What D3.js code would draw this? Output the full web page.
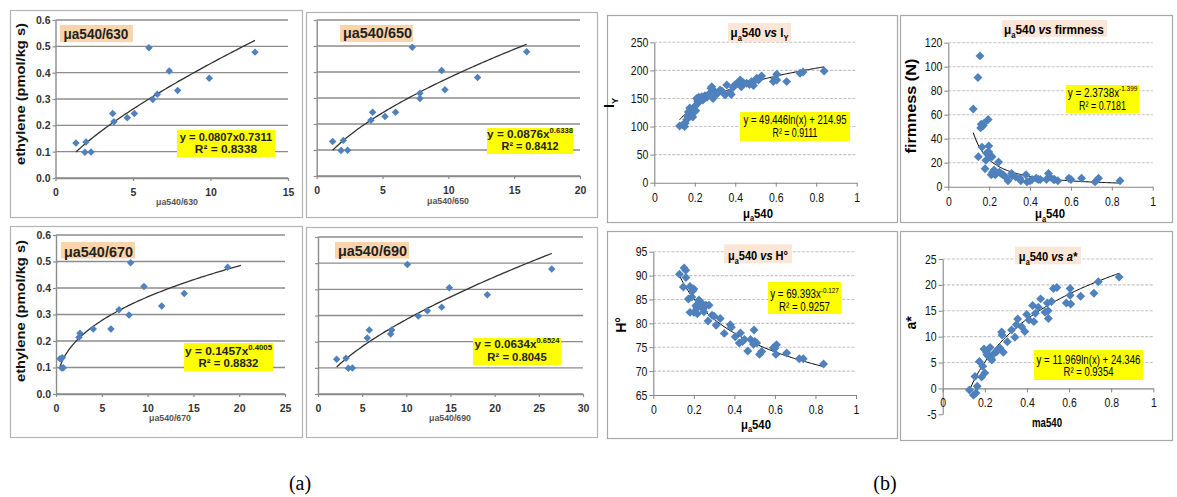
<!DOCTYPE html>
<html><head><meta charset="utf-8">
<script src="https://cdn.jsdelivr.net/npm/d3@7"></script>
<style>body{margin:0;background:#fff} text{font-family:"Liberation Sans",Arial,sans-serif}</style>
</head><body><svg id="c" width="1177" height="497"></svg>
<script>
// ---------------- data : panel (a) ----------------
const ethylene = [0.133,0.137,0.098,0.099,0.245,0.214,0.229,0.245,0.495,0.298,0.318,0.406,0.332,0.379,0.478];
const ratio630 = [1.32,1.97,1.90,2.29,3.69,3.77,4.63,5.09,6.03,6.27,6.57,7.34,7.88,9.92,12.87];
const ratio650 = [1.21,2.02,1.85,2.35,4.25,4.12,5.19,5.99,7.26,7.84,7.84,9.49,9.74,12.22,15.95];
const ratio670 = [0.44,0.69,0.62,0.80,4.07,2.51,2.62,6.00,8.15,7.97,6.88,9.60,11.54,14.00,18.74];
const ratio690 = [2.11,3.17,3.43,3.89,5.81,5.58,8.23,8.34,10.12,11.36,12.38,14.87,14.00,19.17,26.46];
const ethyleneTicks = [0,0.1,0.2,0.3,0.4,0.5,0.6];
const ticks630 = [0,5,10,15];
const ticks650 = [0,5,10,15,20];
const ticks670 = [0,5,10,15,20,25];
const ticks690 = [0,5,10,15,20,25,30];
const powCoefA = [0.0807,0.0876,0.1457,0.0634];
const powExpA  = [0.7311,0.6338,0.4005,0.6524];
const r2A = ["0.8338","0.8412","0.8832","0.8045"];
const labelsA = ["μa540/630","μa540/650","μa540/670","μa540/690"];

// ---------------- data : panel (b) ----------------
const muIy = [0.125,0.140,0.150,0.152,0.160,0.165,0.168,0.175,0.180,0.185,
              0.190,0.193,0.200,0.205,0.209,0.215,0.217,0.220,0.225,0.234,
              0.240,0.250,0.260,0.270,0.280,0.284,0.290,0.300,0.310,0.325,
              0.335,0.350,0.358,0.374,0.380,0.390,0.400,0.410,0.424,0.430,
              0.440,0.456,0.470,0.480,0.490,0.500,0.506,0.515,0.530,0.588,
              0.595,0.605,0.605,0.654,0.720,0.735,0.839];
const Iy   = [101,103,100,106,112,118,126,133,128,120,
              117,132,136,128,150,145,142,152,148,153,
              147,155,152,158,168,171,150,162,158,165,
              163,156,174,160,157,170,175,177,183,171,
              178,177,175,180,173,183,186,183,190,180,
              185,193,183,180,195,197,199];
const muFirm = [0.122,0.145,0.147,0.155,0.158,0.161,0.165,0.171,0.175,0.180,
                0.184,0.187,0.195,0.198,0.198,0.205,0.210,0.214,0.216,0.220,
                0.224,0.230,0.246,0.250,0.258,0.267,0.275,0.292,0.310,0.312,
                0.330,0.350,0.355,0.380,0.385,0.400,0.410,0.430,0.440,0.450,
                0.480,0.490,0.497,0.515,0.520,0.536,0.590,0.600,0.652,0.718,
                0.735,0.840];
const firmness = [64.7,91,25,109,49,52,33,51,53,15,
                  22,28,56,34,29,25,10,25,12,11,
                  14,10,20.6,12,11,10,9,5,11,9,
                  8,7,5,10,4,5,6,7,6,6,
                  6,11,8,6,6,5,7,6,7,4,
                  7,5];
const muHue = [0.129,0.148,0.152,0.160,0.161,0.173,0.181,0.181,0.194,0.200,
               0.200,0.210,0.217,0.225,0.233,0.240,0.250,0.260,0.270,0.275,
               0.290,0.310,0.330,0.350,0.380,0.385,0.404,0.424,0.430,0.450,
               0.466,0.480,0.494,0.497,0.510,0.524,0.535,0.592,0.605,0.608,
               0.658,0.720,0.740,0.840,0.190,0.215,0.245,0.300,0.440,0.500,
               0.600];
const hue = [90.3,87.6,91.6,91.1,89.6,85.1,87.7,82.3,86.8,87.2,
             82.3,83.7,82.0,84.9,83.5,84.2,82.4,83.8,80.5,83.8,
             81.7,79.6,81.0,77.9,79.7,79.2,77.2,75.9,78.0,76.6,
             74.2,76.6,75.6,78.6,75.9,73.5,74.1,74.9,73.5,75.5,
             73.8,72.6,72.6,71.5,85.5,83.2,83.0,81.5,76.2,76.2,
             74.8];
const muA = [0.127,0.146,0.158,0.164,0.153,0.174,0.185,0.190,0.196,0.200,
             0.208,0.217,0.225,0.233,0.240,0.256,0.272,0.280,0.288,0.307,
             0.327,0.343,0.356,0.375,0.390,0.399,0.410,0.427,0.433,0.454,
             0.465,0.486,0.497,0.502,0.517,0.526,0.542,0.587,0.605,0.605,
             0.608,0.655,0.718,0.739,0.838,0.210,0.230,0.262,0.282,0.350,
             0.440,0.500];
const aStar = [-0.3,-1.3,-0.9,0.4,2.3,5.2,2.2,4.3,7.6,3.0,
               7.0,6.2,7.9,5.5,6.6,7.1,7.8,10.9,7.0,9.0,
               11.3,9.9,13.4,11.9,11.0,14.3,13.2,16.0,12.9,15.7,
               17.3,14.7,16.5,13.5,16.8,19.3,19.5,16.5,18.0,19.3,
               16.3,17.8,18.4,20.6,21.5,6.5,5.8,7.5,10.3,12.3,
               14.5,15.0];
const muTicks = [0,0.2,0.4,0.6,0.8,1];
const IyTicks = [0,50,100,150,200,250];
const firmTicks = [0,20,40,60,80,100,120];
const hueTicks = [65,70,75,80,85,90,95];
const aTicks = [-5,0,5,10,15,20,25];

// ---------------- helpers ----------------
const svg = d3.select('#c');
svg.append('rect').attr('width',1177).attr('height',497).attr('fill','#fff');
const BLUE = '#4f81bd';

function rich(g, x, y, parts, o) {
  const t = g.append('text').attr('text-anchor', o.anchor || 'start')
    .attr('font-size', o.size).attr('font-weight', o.weight || 'normal')
    .attr('fill', o.fill || '#000');
  if (o.family) t.style('font-family', o.family);
  let shift = 0;
  parts.forEach(p => {
    if (typeof p === 'string') p = {t: p};
    const target = p.sub ? o.size * 0.3 : p.sup ? -o.size * 0.42 : 0;
    const ts = t.append('tspan').text(p.t).attr('dy', target - shift);
    shift = target;
    if (p.sub || p.sup) ts.attr('font-size', o.size * 0.65);
    if (p.italic) ts.attr('font-style', 'italic');
  });
  const rot = o.rotate ? ` rotate(${o.rotate})` : '';
  let sc = '';
  if (o.w) { const bw = t.node().getBBox().width; sc = ` scale(${o.w / bw},1)`; }
  t.attr('transform', `translate(${x},${y})${rot}${sc}`);
  return t;
}
function box(g, b, stroke) {
  g.append('rect').attr('x', b[0] + 0.5).attr('y', b[1] + 0.5)
    .attr('width', b[2] - b[0]).attr('height', b[3] - b[1])
    .attr('fill', '#fff').attr('stroke', stroke).attr('stroke-width', 1.2);
}
const diamond = s => d3.symbol(d3.symbolSquare, s);

// ---------------- panel (a) ----------------
const A = [
  {box:[10,10,302,217], xr:[55.5,288], yr:[178,20], xv:ratio630, ticks:ticks630, end:null, showY:true,
   lab:[60,25,73,17], labT:[63.5,39.3,65], eqBox:[177,130,98,27], eqB:[140.7,153.3], eqW:[93,63], sup:false,
   xT:[177,204.5], yT:[25,94]},
  {box:[306,12,597,217], xr:[316.7,580], yr:[176,20], xv:ratio650, ticks:ticks650, end:null, showY:false,
   lab:[340,25,73,17], labT:[343,38.3,69], eqBox:[487,128,86,26], eqB:[138,150], eqW:[86,57], sup:true,
   xT:[448,203.5]},
  {box:[10,226,302,437], xr:[56,285], yr:[394,235], xv:ratio670, ticks:ticks670, end:20.2, showY:true,
   lab:[61,242,74,16.5], labT:[64,256.5,69], eqBox:[184,343,89,28], eqB:[354.5,367], eqW:[87,60], sup:true,
   xT:[170,421], yT:[25,311]},
  {box:[306,227,597,437], xr:[318,583], yr:[394,237], xv:ratio690, ticks:ticks690, end:null, showY:false,
   lab:[335,242,74,16.5], labT:[338,256,69], eqBox:[473,338,88,27], eqB:[348,361], eqW:[86,60], sup:true,
   xT:[450,421]}
];

A.forEach((p, i) => {
  const g = svg.append('g');
  box(g, p.box, '#b4b4b4');
  const x = d3.scaleLinear().domain([0, d3.max(p.ticks)]).range(p.xr);
  const y = d3.scaleLinear().domain([0, 0.6]).range(p.yr);
  g.selectAll('line.grid').data(ethyleneTicks).join('line')
    .attr('x1', p.xr[0]).attr('x2', p.xr[1]).attr('y1', d => y(d)).attr('y2', d => y(d))
    .attr('stroke', '#8c8c8c').attr('stroke-width', 1.4);
  const ya = g.append('g').attr('transform', `translate(${p.xr[0]},0)`)
    .call(d3.axisLeft(y).tickValues(ethyleneTicks).tickSize(3).tickSizeOuter(0).tickPadding(2)
      .tickFormat(p.showY ? d3.format('.1f') : () => ''));
  const xa = g.append('g').attr('transform', `translate(0,${p.yr[0]})`)
    .call(d3.axisBottom(x).tickValues(p.ticks).tickSize(3).tickSizeOuter(0).tickPadding(7.5).tickFormat(d => String(d)));
  [ya, xa].forEach(a => {
    a.select('.domain').attr('stroke', '#8c8c8c').attr('stroke-width', 1.4);
    a.selectAll('.tick line').attr('stroke', '#8c8c8c').attr('stroke-width', 1.2);
    a.selectAll('text').attr('font-size', 10.5).attr('font-weight', 'bold').attr('fill', '#333')
      .style('font-family', '"Liberation Sans",Arial,sans-serif');
  });
  // trend line
  const x0 = d3.min(p.xv), x1 = p.end || d3.max(p.xv);
  const tr = d3.range(0, 101).map(k => { const xx = x0 + (x1 - x0) * k / 100; return [xx, powCoefA[i] * Math.pow(xx, powExpA[i])]; });
  g.append('path').datum(tr).attr('fill', 'none').attr('stroke', '#333').attr('stroke-width', 1.3)
    .attr('d', d3.line().x(d => x(d[0])).y(d => y(d[1])));
  // points
  g.selectAll('path.pt').data(p.xv).join('path')
    .attr('transform', (d, k) => `translate(${x(d)},${y(ethylene[k])}) rotate(45)`)
    .attr('d', diamond(28)).attr('fill', BLUE);
  // series label
  g.append('rect').attr('x', p.lab[0]).attr('y', p.lab[1]).attr('width', p.lab[2]).attr('height', p.lab[3]).attr('fill', '#fbd4a9');
  rich(g, p.labT[0], p.labT[1], [labelsA[i]], {size: 15, weight: 'bold', fill: '#222', w: p.labT[2]});
  // equation
  g.append('rect').attr('x', p.eqBox[0]).attr('y', p.eqBox[1]).attr('width', p.eqBox[2]).attr('height', p.eqBox[3]).attr('fill', '#ffff00');
  const cx = p.eqBox[0] + p.eqBox[2] / 2;
  const eq1 = p.sup ? [`y = ${powCoefA[i]}x`, {t: String(powExpA[i]), sup: true}] : [`y = ${powCoefA[i]}x${powExpA[i]}`];
  rich(g, cx, p.eqB[0], eq1, {size: 11.5, weight: 'bold', anchor: 'middle', fill: '#222', w: p.eqW[0]});
  rich(g, cx, p.eqB[1], [`R² = ${r2A[i]}`], {size: 11.5, weight: 'bold', anchor: 'middle', fill: '#222', w: p.eqW[1]});
  // axis titles
  rich(g, p.xT[0], p.xT[1], [labelsA[i]], {size: 9, weight: 'bold', anchor: 'middle', fill: '#555', w: 42});
  if (p.yT) rich(g, p.yT[0], p.yT[1], ['ethylene (pmol/kg s)'], {size: 13, weight: 'bold', anchor: 'middle', rotate: -90, fill: '#111', w: 142});
});

// ---------------- panel (b) ----------------
const MU = [{t:'μ'},{t:'a',sub:true},{t:'540'}];
const B = [
  {box:[607,15,897,222], xr:[654.3,856.7], yr:[182.7,42.3], ydom:[0,250], yt:IyTicks, xs:muIy, ys:Iy,
   f: x => 49.446 * Math.log(x) + 214.95,
   title:[...MU, {t:' '}, {t:'vs',italic:true}, {t:' I'}, {t:'Y',sub:true}], tBox:[728,23,63,19], tT:[759.5,37,58],
   eqBox:[740,112,110,29], eq1:['y = 49.446ln(x) + 214.95'], eq2:'R² = 0.9111', eqB:[124,136.5], eqW:[103,45],
   yTitle:[{t:'I'},{t:'Y',sub:true}], yT:[614,103], xTitle:MU, xT:[758,217.5]},
  {box:[900,15,1172,222], xr:[948.3,1152.7], yr:[186.7,42.7], ydom:[0,120], yt:firmTicks, xs:muFirm, ys:firmness,
   f: x => 2.3738 * Math.pow(x, -1.399),
   title:[...MU, {t:' '}, {t:'vs',italic:true}, {t:' firmness'}], tBox:[1002,20,105,17], tT:[1054,33.5,100],
   eqBox:[1066,85,73,28], eq1:['y = 2.3738x', {t:'-1.399', sup:true}], eq2:'R² = 0.7181', eqB:[96.5,109.5], eqW:[70,47],
   yTitle:['firmness (N)'], yT:[916,106], yW:95, xTitle:MU, xT:[1050,218]},
  {box:[607,231,897,438], xr:[653.3,856], yr:[395,251.7], ydom:[65,95], yt:hueTicks, xs:muHue, ys:hue,
   f: x => 69.393 * Math.pow(x, -0.127),
   title:[...MU, {t:' '}, {t:'vs',italic:true}, {t:' H°'}], tBox:[724,244.3,68,19], tT:[758,259.5,60],
   eqBox:[768,282,73,32], eq1:['y = 69.393x', {t:'-0.127', sup:true}], eq2:'R² = 0.9257', eqB:[298,310.5], eqW:[69,51],
   yTitle:['H°'], yT:[626,325], xTitle:MU, xT:[756,428.5]},
  {box:[900,231,1172,440], xr:[942.7,1153.3], yr:[414.3,259], ydom:[-5,25], yt:aTicks, xs:muA, ys:aStar,
   f: x => 11.969 * Math.log(x) + 24.346, axisAt: 0,
   title:[...MU, {t:' '}, {t:'vs',italic:true}, {t:' '}, {t:'a*',italic:true}], tBox:[1015,246.7,66,17.6], tT:[1048,260.5,59],
   eqBox:[1034,350,109,30], eq1:['y = 11.969ln(x) + 24.346'], eq2:'R² = 0.9354', eqB:[363.5,375.5], eqW:[104,50],
   yTitle:['a*'], yT:[916,323], xTitle:['ma540'], xT:[1047,427]}
];

B.forEach(p => {
  const g = svg.append('g');
  box(g, p.box, '#a8a8a8');
  const x = d3.scaleLinear().domain([0, 1]).range(p.xr);
  const y = d3.scaleLinear().domain(p.ydom).range(p.yr);
  const base = p.axisAt !== undefined ? p.axisAt : p.ydom[0];
  g.selectAll('line.grid').data(p.yt.filter(d => d > base)).join('line')
    .attr('x1', p.xr[0]).attr('x2', p.xr[1]).attr('y1', d => y(d)).attr('y2', d => y(d))
    .attr('stroke', '#c4c4c4').attr('stroke-width', 1.1).attr('stroke-dasharray', '3,1.5');
  const ya = g.append('g').attr('transform', `translate(${p.xr[0]},0)`)
    .call(d3.axisLeft(y).tickValues(p.yt).tickSize(4).tickSizeOuter(0).tickPadding(2).tickFormat(d => String(d)));
  const xa = g.append('g').attr('transform', `translate(0,${y(base)})`)
    .call(d3.axisBottom(x).tickValues(muTicks).tickSize(4).tickSizeOuter(0).tickPadding(6).tickFormat(d => String(d)));
  [ya, xa].forEach(a => {
    a.select('.domain').attr('stroke', '#868686').attr('stroke-width', 1.1);
    a.selectAll('.tick line').attr('stroke', '#868686');
    a.selectAll('text').attr('font-size', 12.5).attr('fill', '#111')
      .style('font-family', '"Liberation Sans",Arial,sans-serif');
  });
  ya.selectAll('text').attr('x', -6 / 0.84).attr('transform', 'scale(0.84,1)');
  xa.selectAll('text').attr('transform', 'scale(0.84,1)');
  // trend
  const x0 = d3.min(p.xs), x1 = d3.max(p.xs);
  const tr = d3.range(0, 121).map(k => { const xx = x0 + (x1 - x0) * k / 120; return [xx, p.f(xx)]; });
  g.append('path').datum(tr).attr('fill', 'none').attr('stroke', '#000').attr('stroke-width', 1)
    .attr('d', d3.line().x(d => x(d[0])).y(d => y(d[1])));
  // points
  g.selectAll('path.pt').data(p.xs).join('path')
    .attr('transform', (d, k) => `translate(${x(d)},${y(p.ys[k])}) rotate(45)`)
    .attr('d', diamond(40)).attr('fill', BLUE);
  // title
  g.append('rect').attr('x', p.tBox[0]).attr('y', p.tBox[1]).attr('width', p.tBox[2]).attr('height', p.tBox[3]).attr('fill', '#fde5d7');
  rich(g, p.tT[0], p.tT[1], p.title, {size: 13.5, weight: 'bold', anchor: 'middle', w: p.tT[2]});
  // equation
  g.append('rect').attr('x', p.eqBox[0]).attr('y', p.eqBox[1]).attr('width', p.eqBox[2]).attr('height', p.eqBox[3]).attr('fill', '#ffff00');
  const cx = p.eqBox[0] + p.eqBox[2] / 2;
  rich(g, cx, p.eqB[0], p.eq1, {size: 12.5, anchor: 'middle', w: p.eqW[0]});
  rich(g, cx, p.eqB[1], [p.eq2], {size: 12.5, anchor: 'middle', w: p.eqW[1]});
  // axis titles
  rich(g, p.yT[0], p.yT[1], p.yTitle, {size: 14, weight: 'bold', anchor: 'middle', rotate: -90, w: p.yW});
  rich(g, p.xT[0], p.xT[1], p.xTitle, {size: 13, weight: 'bold', anchor: 'middle', w: 30});
});

// ---------------- captions ----------------
rich(svg, 300, 490, ['(a)'], {size: 20, anchor: 'middle', family: '"Liberation Serif","Times New Roman",serif'});
rich(svg, 885, 490, ['(b)'], {size: 20, anchor: 'middle', family: '"Liberation Serif","Times New Roman",serif'});
</script>
</body></html>
